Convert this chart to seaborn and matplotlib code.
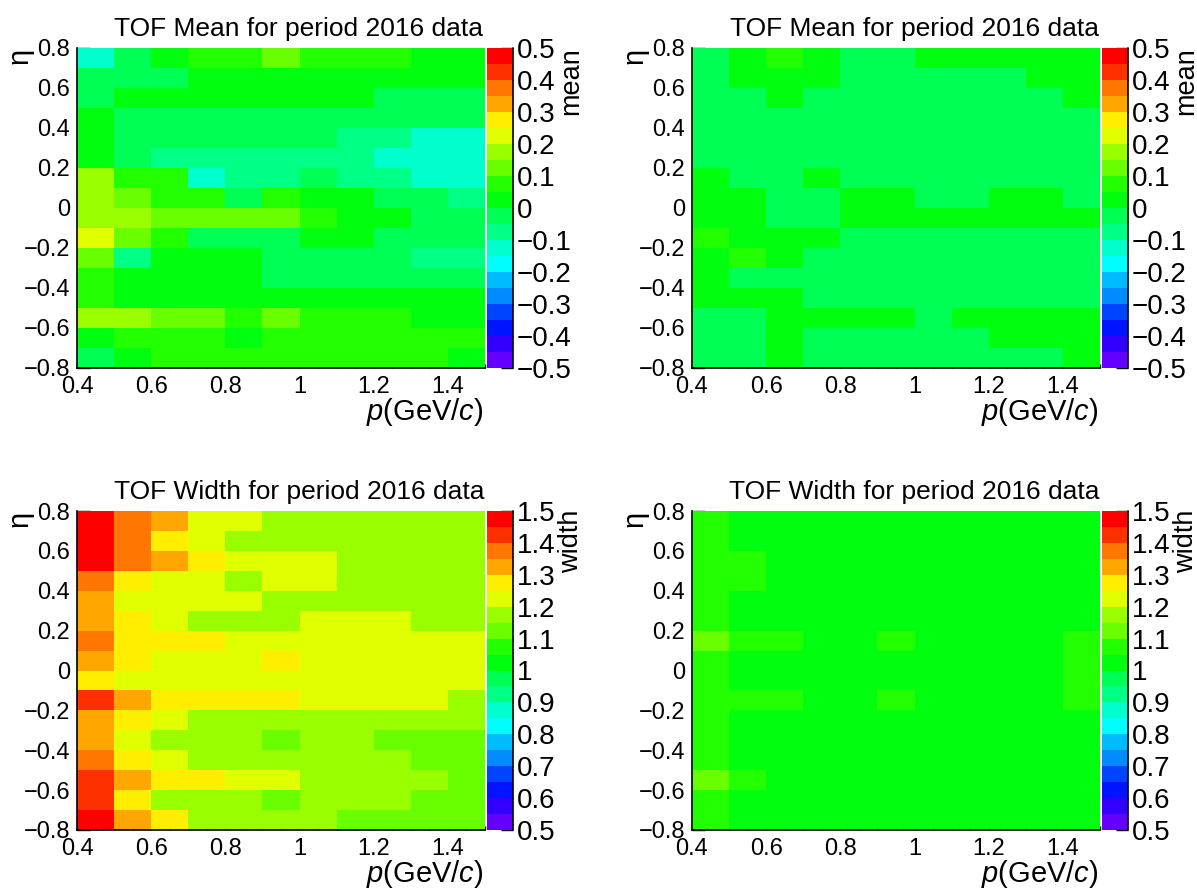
import colorsys

import numpy as np
import pandas as pd
import matplotlib
matplotlib.use("Agg")
import matplotlib.pyplot as plt
import seaborn as sns
from matplotlib.colors import ListedColormap

# ---------------------------------------------------------------- binning
p_edges = [0.4, 0.5, 0.6, 0.7, 0.8, 0.9, 1.0, 1.1, 1.2, 1.3, 1.4, 1.5]
eta_edges = [-0.8, -0.7, -0.6, -0.5, -0.4, -0.3, -0.2, -0.1, 0.0,
             0.1, 0.2, 0.3, 0.4, 0.5, 0.6, 0.7, 0.8]

p_ticks = [0.4, 0.6, 0.8, 1.0, 1.2, 1.4]
eta_ticks = [-0.8, -0.6, -0.4, -0.2, 0.0, 0.2, 0.4, 0.6, 0.8]
mean_ticks = [-0.5, -0.4, -0.3, -0.2, -0.1, 0.0, 0.1, 0.2, 0.3, 0.4, 0.5]
width_ticks = [0.5, 0.6, 0.7, 0.8, 0.9, 1.0, 1.1, 1.2, 1.3, 1.4, 1.5]

# ------------------------------------------------------------------ data
# rows run from eta 0.7..0.8 (top) down to -0.8..-0.7 (bottom)
mean_left = [
    [-0.12, -0.03, 0.02, 0.07, 0.06, 0.12, 0.07, 0.06, 0.06, 0.03, 0.02],
    [-0.02, -0.03, -0.02, 0.02, 0.03, 0.03, 0.02, 0.03, 0.02, 0.02, 0.01],
    [-0.03, 0.02, 0.03, 0.02, 0.02, 0.03, 0.02, 0.01, -0.02, -0.03, -0.02],
    [0.02, -0.03, -0.03, -0.02, -0.03, -0.03, -0.04, -0.04, -0.04, -0.04, -0.04],
    [0.02, -0.03, -0.04, -0.03, -0.03, -0.04, -0.04, -0.07, -0.08, -0.12, -0.12],
    [0.03, -0.04, -0.07, -0.07, -0.08, -0.07, -0.07, -0.08, -0.11, -0.12, -0.12],
    [0.17, 0.06, 0.06, -0.12, -0.07, -0.07, -0.04, -0.07, -0.07, -0.11, -0.12],
    [0.17, 0.12, 0.07, 0.07, -0.03, 0.06, 0.03, 0.02, -0.03, -0.03, -0.06],
    [0.18, 0.17, 0.13, 0.12, 0.12, 0.13, 0.07, 0.03, 0.03, -0.02, -0.03],
    [0.22, 0.12, 0.06, -0.03, -0.04, -0.03, 0.02, 0.03, -0.03, -0.03, -0.02],
    [0.12, -0.07, 0.02, 0.03, 0.02, -0.03, -0.04, -0.03, -0.04, -0.06, -0.06],
    [0.07, 0.02, 0.03, 0.02, 0.02, -0.03, -0.04, -0.03, -0.03, -0.02, -0.03],
    [0.08, 0.03, 0.02, 0.02, 0.03, 0.02, 0.02, 0.01, 0.02, 0.02, 0.03],
    [0.17, 0.16, 0.12, 0.13, 0.07, 0.12, 0.07, 0.06, 0.07, 0.03, 0.02],
    [0.03, 0.06, 0.07, 0.07, 0.02, 0.06, 0.07, 0.07, 0.06, 0.06, 0.07],
    [-0.03, 0.03, 0.06, 0.06, 0.07, 0.06, 0.07, 0.06, 0.06, 0.06, 0.02],
]

mean_right = [
    [-0.02, 0.02, 0.06, 0.03, -0.02, -0.03, 0.02, 0.02, 0.03, 0.02, 0.02],
    [-0.03, 0.02, 0.03, 0.02, -0.02, -0.02, -0.03, -0.02, -0.02, 0.02, 0.03],
    [-0.02, -0.03, 0.02, -0.02, -0.03, -0.02, -0.02, -0.03, -0.02, -0.03, 0.02],
    [-0.02, -0.03, -0.02, -0.02, -0.03, -0.02, -0.02, -0.03, -0.02, -0.02, -0.03],
    [-0.03, -0.02, -0.02, -0.03, -0.02, -0.02, -0.03, -0.02, -0.02, -0.03, -0.02],
    [-0.02, -0.02, -0.03, -0.02, -0.02, -0.03, -0.02, -0.02, -0.03, -0.02, -0.02],
    [0.02, -0.03, -0.02, 0.02, -0.02, -0.03, -0.02, -0.02, -0.03, -0.02, -0.02],
    [0.03, 0.02, -0.02, -0.03, 0.02, 0.03, -0.02, -0.03, 0.02, 0.02, -0.02],
    [0.02, 0.03, -0.02, -0.02, 0.02, 0.02, 0.03, 0.02, 0.02, 0.03, 0.02],
    [0.06, 0.03, 0.02, 0.02, -0.02, -0.03, -0.02, -0.02, -0.03, -0.02, -0.02],
    [0.02, 0.06, 0.03, -0.02, -0.03, -0.02, -0.02, -0.03, -0.02, -0.02, -0.03],
    [0.03, -0.02, -0.03, -0.02, -0.02, -0.03, -0.02, -0.02, -0.03, -0.02, -0.02],
    [0.02, 0.03, 0.02, -0.02, -0.03, -0.02, -0.02, -0.03, -0.02, -0.02, -0.03],
    [-0.02, -0.03, 0.02, 0.03, 0.02, 0.02, -0.02, 0.03, 0.02, 0.02, 0.03],
    [-0.03, -0.02, 0.02, -0.02, -0.02, -0.03, -0.02, -0.02, 0.02, 0.03, 0.02],
    [-0.02, -0.03, 0.03, -0.02, -0.02, -0.03, -0.02, -0.02, -0.03, -0.02, 0.02],
]

width_left = [
    [1.47, 1.37, 1.32, 1.22, 1.23, 1.17, 1.17, 1.18, 1.17, 1.17, 1.16],
    [1.48, 1.37, 1.27, 1.22, 1.17, 1.17, 1.18, 1.17, 1.16, 1.17, 1.17],
    [1.47, 1.38, 1.32, 1.27, 1.22, 1.23, 1.22, 1.17, 1.17, 1.18, 1.17],
    [1.37, 1.27, 1.22, 1.23, 1.17, 1.22, 1.22, 1.17, 1.17, 1.16, 1.17],
    [1.32, 1.22, 1.23, 1.22, 1.22, 1.17, 1.17, 1.18, 1.17, 1.17, 1.16],
    [1.33, 1.27, 1.22, 1.17, 1.18, 1.17, 1.22, 1.23, 1.22, 1.17, 1.17],
    [1.37, 1.27, 1.28, 1.27, 1.22, 1.22, 1.23, 1.22, 1.22, 1.23, 1.22],
    [1.32, 1.27, 1.22, 1.22, 1.23, 1.27, 1.22, 1.22, 1.23, 1.22, 1.22],
    [1.27, 1.22, 1.23, 1.22, 1.22, 1.22, 1.23, 1.22, 1.22, 1.22, 1.23],
    [1.42, 1.32, 1.27, 1.28, 1.27, 1.27, 1.22, 1.23, 1.22, 1.22, 1.17],
    [1.33, 1.27, 1.22, 1.17, 1.17, 1.18, 1.17, 1.17, 1.17, 1.16, 1.17],
    [1.32, 1.22, 1.17, 1.17, 1.18, 1.12, 1.17, 1.17, 1.12, 1.12, 1.13],
    [1.37, 1.27, 1.22, 1.17, 1.17, 1.18, 1.17, 1.16, 1.17, 1.12, 1.12],
    [1.42, 1.32, 1.27, 1.27, 1.22, 1.22, 1.17, 1.17, 1.18, 1.17, 1.12],
    [1.43, 1.27, 1.17, 1.17, 1.18, 1.12, 1.17, 1.17, 1.17, 1.12, 1.13],
    [1.47, 1.32, 1.27, 1.17, 1.17, 1.18, 1.17, 1.12, 1.12, 1.13, 1.12],
]

width_right = [
    [1.07, 1.03, 1.02, 1.03, 1.02, 1.03, 1.02, 1.02, 1.03, 1.02, 1.03],
    [1.06, 1.03, 1.03, 1.02, 1.03, 1.02, 1.03, 1.02, 1.02, 1.03, 1.02],
    [1.07, 1.06, 1.02, 1.03, 1.02, 1.02, 1.03, 1.02, 1.03, 1.02, 1.03],
    [1.06, 1.06, 1.03, 1.02, 1.03, 1.02, 1.02, 1.03, 1.02, 1.03, 1.02],
    [1.07, 1.03, 1.02, 1.02, 1.03, 1.02, 1.03, 1.02, 1.02, 1.03, 1.02],
    [1.06, 1.02, 1.03, 1.03, 1.02, 1.03, 1.02, 1.03, 1.02, 1.02, 1.03],
    [1.11, 1.07, 1.06, 1.03, 1.02, 1.06, 1.03, 1.02, 1.03, 1.02, 1.06],
    [1.07, 1.03, 1.02, 1.03, 1.02, 1.03, 1.02, 1.03, 1.02, 1.03, 1.06],
    [1.06, 1.02, 1.03, 1.02, 1.03, 1.02, 1.03, 1.02, 1.03, 1.02, 1.07],
    [1.07, 1.06, 1.06, 1.03, 1.02, 1.06, 1.02, 1.03, 1.02, 1.03, 1.06],
    [1.06, 1.03, 1.02, 1.03, 1.02, 1.03, 1.02, 1.02, 1.03, 1.02, 1.03],
    [1.07, 1.02, 1.03, 1.02, 1.03, 1.02, 1.03, 1.02, 1.02, 1.03, 1.02],
    [1.06, 1.03, 1.02, 1.03, 1.02, 1.03, 1.02, 1.03, 1.02, 1.02, 1.03],
    [1.11, 1.07, 1.03, 1.02, 1.03, 1.02, 1.02, 1.03, 1.02, 1.03, 1.02],
    [1.06, 1.02, 1.03, 1.02, 1.02, 1.03, 1.02, 1.02, 1.03, 1.02, 1.03],
    [1.07, 1.03, 1.02, 1.03, 1.02, 1.02, 1.03, 1.02, 1.03, 1.02, 1.02],
]

title_mean = "TOF Mean for period 2016 data"
title_width = "TOF Width for period 2016 data"

# ----------------------------------------------------------------- style
sns.set_theme(style="white")
plt.rcParams["font.family"] = ["Liberation Sans", "DejaVu Sans"]
plt.rcParams["mathtext.fontset"] = "custom"
plt.rcParams["mathtext.rm"] = "Liberation Sans"
plt.rcParams["mathtext.it"] = "Liberation Sans:italic"
plt.rcParams["axes.unicode_minus"] = True


def rainbow_palette(n_levels=20, n_colors=50):
    """Violet-to-red HLS palette sampled at n_levels contour levels."""
    cols = []
    for k in range(n_levels):
        idx = int((k + 0.99) * n_colors / n_levels)
        hue = 280.0 - (idx + 1) * 280.0 / n_colors
        cols.append(colorsys.hls_to_rgb(hue / 360.0, 0.5, 1.0))
    return ListedColormap(cols)


palette = rainbow_palette()

W, H = 1197, 891
fig = plt.figure(figsize=(W / 100, H / 100), dpi=100)
fig.patch.set_facecolor("white")


def fx(px):
    return px / W


def fy(py):
    return 1 - py / H


def fmt(v):
    s = f"{v:g}"
    return s.replace("-", "\u2212")


def draw_panel(left, top, right, bottom, values, vmin, vmax, zticks,
               title, zlabel):
    ax = fig.add_axes([fx(left), fy(bottom), fx(right - left), (bottom - top) / H])
    cax = fig.add_axes([fx(right + 2), fy(bottom), fx(26), (bottom - top) / H])

    p_cent = np.round((np.array(p_edges[:-1]) + np.array(p_edges[1:])) / 2, 3)
    e_cent = np.round((np.array(eta_edges[:-1]) + np.array(eta_edges[1:])) / 2, 3)
    frame = pd.DataFrame(values, index=e_cent[::-1], columns=p_cent)

    sns.heatmap(frame, ax=ax, cbar_ax=cax, cmap=palette, vmin=vmin, vmax=vmax,
                xticklabels=False, yticklabels=False, linewidths=0)

    # map physical coordinates onto heatmap cell indices
    nx, ny = len(p_edges) - 1, len(eta_edges) - 1
    xpos = lambda v: np.interp(v, p_edges, np.arange(nx + 1))
    ypos = lambda v: np.interp(v, eta_edges, np.arange(ny + 1)[::-1])

    ax.set_xticks(xpos(p_ticks), labels=[fmt(v) for v in p_ticks])
    ax.set_xticks(xpos(np.arange(0.4, 1.5001, 0.05)), minor=True)
    ax.set_yticks(ypos(eta_ticks), labels=[fmt(v) for v in eta_ticks])
    ax.set_yticks(ypos(np.arange(-0.8, 0.8001, 0.05)), minor=True)
    for lab in ax.get_yticklabels():
        lab.set_rotation(0)

    ax.tick_params(axis="x", which="both", bottom=True, top=False, direction="in",
                   color="black", width=1, labelsize=17, pad=6, labelcolor="black")
    ax.tick_params(axis="x", which="major", length=6)
    ax.tick_params(axis="x", which="minor", length=3)
    ax.tick_params(axis="y", which="both", left=True, right=False, direction="in",
                   color="black", width=1, labelsize=17, pad=5, labelcolor="black")
    ax.tick_params(axis="y", which="major", length=9.3)
    ax.tick_params(axis="y", which="minor", length=4.7)
    for side in ("left", "bottom"):
        ax.spines[side].set_visible(True)
        ax.spines[side].set_color("black")
        ax.spines[side].set_linewidth(1.2)
    for side in ("top", "right"):
        ax.spines[side].set_visible(False)

    cbar = ax.collections[0].colorbar
    cbar.outline.set_visible(False)
    cbar.set_ticks(zticks)
    cbar.set_ticklabels([fmt(v) for v in zticks])
    cax.tick_params(axis="y", which="major", right=True, left=False, direction="in",
                    length=9, width=1, color="black", labelsize=20, pad=2.5,
                    labelcolor="black")
    cax.tick_params(axis="y", which="minor", right=False, left=False)
    cax.plot([1, 1], [0, 1], transform=cax.transAxes, color="black", lw=1.2,
             clip_on=False)

    centre = (left + right) / 2 + 18
    fig.text(fx(centre), fy(top - 12), title, ha="center", va="baseline",
             fontsize=19, color="black")
    fig.text(fx(right - 1), fy(bottom + 52), r"$p$(GeV/$c$)", ha="right",
             va="baseline", fontsize=21, color="black")
    fig.text(fx(left - 57), fy(top), "\u03b7", ha="center", va="top",
             rotation=90, fontsize=21, color="black")
    fig.text(fx(right + 86), fy(top - 1), zlabel, ha="center", va="top",
             rotation=90, fontsize=19.5, color="black")
    return ax


draw_panel(77, 48, 485, 368, mean_left, -0.5, 0.5, mean_ticks, title_mean, "mean")
draw_panel(692, 48, 1100, 368, mean_right, -0.5, 0.5, mean_ticks, title_mean, "mean")
draw_panel(77, 511, 485, 830, width_left, 0.5, 1.5, width_ticks, title_width, "width")
draw_panel(692, 511, 1100, 830, width_right, 0.5, 1.5, width_ticks, title_width, "width")

fig.savefig("out.png", dpi=100, facecolor="white")
